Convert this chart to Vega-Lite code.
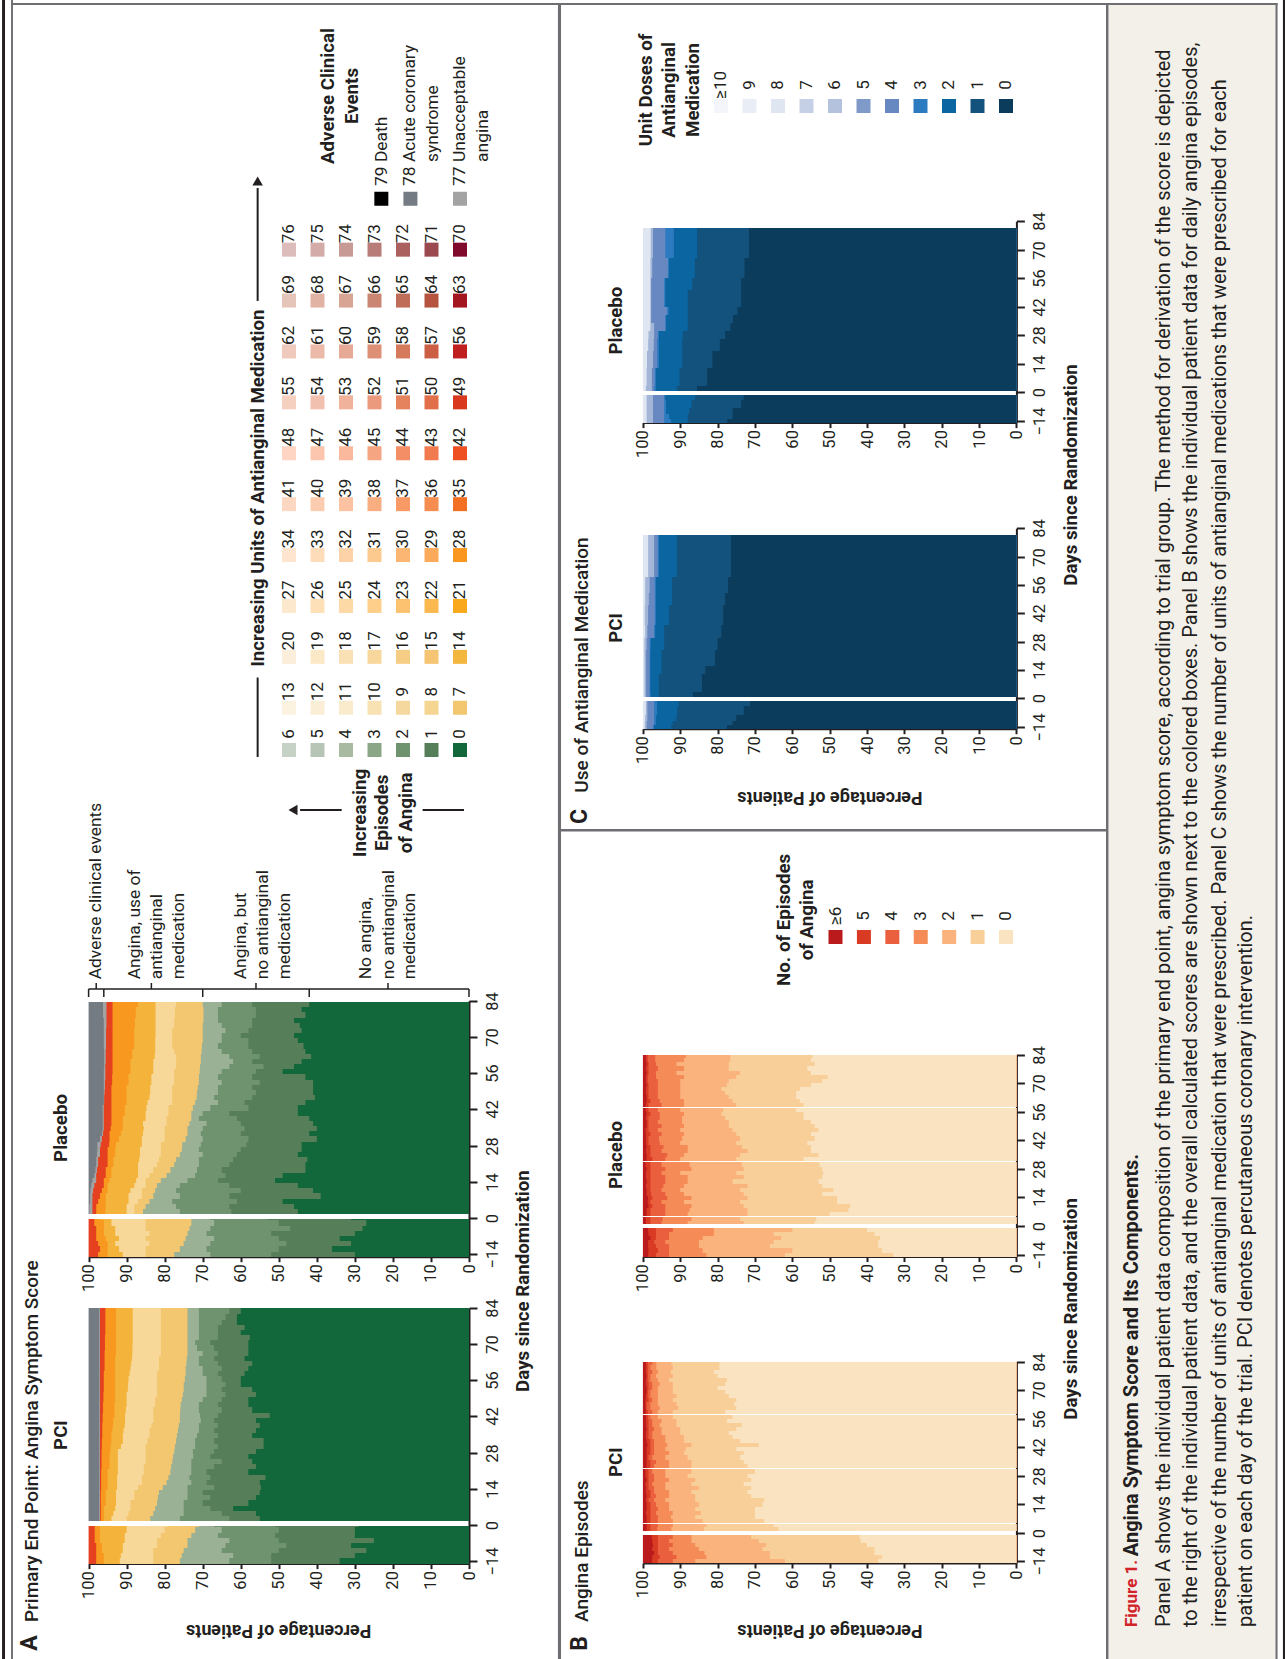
{"$schema":"https://vega.github.io/schema/vega-lite/v6.json","width":1285,"height":1659,"padding":0,"autosize":"none","background":"#ffffff",
"config":{"view":{"stroke":null},"font":"Roboto","axis":{"grid":false,"title":null,"domainColor":"#231f20","tickColor":"#231f20","labelColor":"#231f20","domainWidth":2,"tickWidth":2,"labelFontSize":16.5,"labelOverlap":false,"labelBound":false,"labelFlush":false,"zindex":1},"axisX":{"labelAngle":270,"labelAlign":"right","labelBaseline":"middle","tickSize":5,"labelPadding":2},"axisY":{"labelAngle":270,"labelAlign":"center","labelBaseline":"middle","tickSize":8,"labelPadding":15}},
"resolve":{"scale":{"x":"independent","y":"independent","color":"independent"},"axis":{"x":"independent","y":"independent"}},
"layer":[
{"layer":[
{"data":{"values":[{"x0":86.26,"x1":99.26,"y0":0.3,"y1":100,"k":"caption"},{"x0":0.16,"x1":0.39,"y0":0,"y1":100,"k":"black"},{"x0":99.84,"x1":100,"y0":0,"y1":100,"k":"black"},{"x0":0.86,"x1":1.01,"y0":0,"y1":100,"k":"gray"},{"x0":0.86,"x1":99.42,"y0":0.18,"y1":0.3,"k":"gray"},{"x0":99.26,"x1":99.42,"y0":0.18,"y1":100,"k":"gray"},{"x0":43.42,"x1":43.66,"y0":0.18,"y1":100,"k":"gray"},{"x0":86.07,"x1":86.26,"y0":0.18,"y1":100,"k":"gray"},{"x0":43.5,"x1":86.1,"y0":49.97,"y1":50.12,"k":"gray"}]},"mark":"rect","encoding":{"x":{"field":"x0","type":"quantitative","axis":null,"scale":{"domain":[0,100],"range":[0,1285],"nice":false,"zero":false}},"x2":{"field":"x1"},"y":{"field":"y0","type":"quantitative","axis":null,"scale":{"domain":[0,100],"range":[0,1659],"nice":false,"zero":false}},"y2":{"field":"y1"},"color":{"field":"k","type":"nominal","legend":null,"scale":{"domain":["caption","black","gray"],"range":["#f3f0ea","#231f20","#6d6e71"]}}}},
{"data":{"values":[{"x0":36.11,"x1":32.89,"y0":48.82,"y1":48.82},{"x0":26.59,"x1":23.35,"y0":48.82,"y1":48.82},{"x0":20.05,"x1":20.05,"y0":45.63,"y1":40.84},{"x0":20.05,"x1":20.05,"y0":18.14,"y1":11.33}]},"mark":{"type":"rule","color":"#231f20","strokeWidth":2},"encoding":{"x":{"field":"x0","type":"quantitative","axis":null},"x2":{"field":"x1"},"y":{"field":"y0","type":"quantitative","axis":null},"y2":{"field":"y1"}}},
{"data":{"values":[{"x":22.8,"y":48.82}]},"mark":{"type":"point","shape":"triangle-left","filled":true,"size":110,"color":"#231f20","opacity":1},"encoding":{"x":{"field":"x","type":"quantitative","axis":null},"y":{"field":"y","type":"quantitative","axis":null}}},
{"data":{"values":[{"x":20.05,"y":10.91}]},"mark":{"type":"point","shape":"triangle-up","filled":true,"size":110,"color":"#231f20","opacity":1},"encoding":{"x":{"field":"x","type":"quantitative","axis":null},"y":{"field":"y","type":"quantitative","axis":null}}},
{"data":{"values":[{"t":"Primary End Point: Angina Symptom Score","x":2.49,"y":97.77},{"t":"Angina Episodes","x":45.29,"y":97.77},{"t":"Use of Antianginal Medication","x":45.29,"y":47.78}]},"mark":{"type":"text","angle":270,"align":"left","baseline":"middle","fontSize":19,"fontWeight":500,"color":"#231f20"},"encoding":{"x":{"field":"x","type":"quantitative","axis":null},"y":{"field":"y","type":"quantitative","axis":null},"text":{"field":"t"}}},
{"data":{"values":[{"t":"A","x":2.33,"y":99.5},{"t":"B","x":45.14,"y":99.5},{"t":"C","x":45.14,"y":49.67}]},"mark":{"type":"text","angle":270,"align":"left","baseline":"middle","fontSize":23,"fontWeight":"bold","color":"#231f20"},"encoding":{"x":{"field":"x","type":"quantitative","axis":null},"y":{"field":"y","type":"quantitative","axis":null},"text":{"field":"t"}}},
{"data":{"values":[{"t":"PCI","x":4.75,"y":86.5},{"t":"Placebo","x":4.75,"y":67.99},{"t":"PCI","x":47.94,"y":88.13},{"t":"Placebo","x":47.94,"y":69.62},{"t":"PCI","x":47.94,"y":37.85},{"t":"Placebo","x":47.94,"y":19.32},{"t":"Days since Randomization","x":40.7,"y":77.22},{"t":"Days since Randomization","x":83.35,"y":78.9},{"t":"Days since Randomization","x":83.35,"y":28.63},{"t":"Increasing","x":28.02,"y":49},{"t":"Episodes","x":29.7,"y":49},{"t":"of Angina","x":31.57,"y":49},{"t":"Increasing Units of Antianginal Medication","x":20.08,"y":29.42},{"t":"Adverse Clinical","x":25.53,"y":5.79},{"t":"Events","x":27.37,"y":5.79},{"t":"No. of Episodes","x":61.01,"y":55.45},{"t":"of Angina","x":62.8,"y":55.45},{"t":"Unit Doses of","x":50.27,"y":5.42},{"t":"Antianginal","x":52.06,"y":5.42},{"t":"Medication","x":53.93,"y":5.42}]},"mark":{"type":"text","angle":270,"align":"center","baseline":"middle","fontSize":18.7,"fontWeight":"bold","color":"#231f20"},"encoding":{"x":{"field":"x","type":"quantitative","axis":null},"y":{"field":"y","type":"quantitative","axis":null},"text":{"field":"t"}}},
{"data":{"values":[{"t":"Percentage of Patients","x":21.68,"y":98.25},{"t":"Percentage of Patients","x":64.59,"y":98.25},{"t":"Percentage of Patients","x":64.59,"y":48.02}]},"mark":{"type":"text","angle":180,"align":"center","baseline":"middle","fontSize":18,"fontWeight":"bold","color":"#231f20"},"encoding":{"x":{"field":"x","type":"quantitative","axis":null},"y":{"field":"y","type":"quantitative","axis":null},"text":{"field":"t"}}},
{"data":{"values":[{"t":"Adverse clinical events","x":7.5,"y":59.03},{"t":"Angina, use of","x":10.51,"y":59.03},{"t":"antianginal","x":12.22,"y":59.03},{"t":"medication","x":13.93,"y":59.03},{"t":"Angina, but","x":18.75,"y":59.03},{"t":"no antianginal","x":20.47,"y":59.03},{"t":"medication","x":22.18,"y":59.03},{"t":"No angina,","x":28.48,"y":59.03},{"t":"no antianginal","x":30.24,"y":59.03},{"t":"medication","x":31.88,"y":59.03},{"t":"79 Death","x":29.7,"y":11.21},{"t":"78 Acute coronary","x":31.91,"y":11.21},{"t":"syndrome","x":33.67,"y":9.76},{"t":"77 Unacceptable","x":35.8,"y":11.21},{"t":"angina","x":37.56,"y":9.76}]},"mark":{"type":"text","angle":270,"align":"left","baseline":"middle","fontSize":17.4,"color":"#231f20"},"encoding":{"x":{"field":"x","type":"quantitative","axis":null},"y":{"field":"y","type":"quantitative","axis":null},"text":{"field":"t"}}},
{"data":{"values":[{"t":"Panel A shows the individual patient data composition of the primary end point, angina symptom score, according to trial group. The method for derivation of the score is depicted","x":90.58,"y":98.07},{"t":"to the right of the individual patient data, and the overall calculated scores are shown next to the colored boxes. Panel B shows the individual patient data for daily angina episodes,","x":92.68,"y":98.07},{"t":"irrespective of the number of units of antianginal medication that were prescribed. Panel C shows the number of units of antianginal medications that were prescribed for each","x":94.91,"y":98.07},{"t":"patient on each day of the trial. PCI denotes percutaneous coronary intervention.","x":97,"y":98.07}]},"mark":{"type":"text","angle":270,"align":"left","baseline":"middle","fontSize":20,"color":"#231f20"},"encoding":{"x":{"field":"x","type":"quantitative","axis":null},"y":{"field":"y","type":"quantitative","axis":null},"text":{"field":"t"}}},
{"data":{"values":[{"t":"Angina Symptom Score and Its Components.","x":88.09,"y":93.8}]},"mark":{"type":"text","angle":270,"align":"left","baseline":"middle","fontSize":20,"fontWeight":"bold","color":"#231f20"},"encoding":{"x":{"field":"x","type":"quantitative","axis":null},"y":{"field":"y","type":"quantitative","axis":null},"text":{"field":"t"}}},
{"data":{"values":[{"t":"Figure 1.","x":88.09,"y":98.07}]},"mark":{"type":"text","angle":270,"align":"left","baseline":"middle","fontSize":17,"fontWeight":"bold","color":"#d2232a"},"encoding":{"x":{"field":"x","type":"quantitative","axis":null},"y":{"field":"y","type":"quantitative","axis":null},"text":{"field":"t"}}}
]},
{"layer":[
{"data":{"values":[{"s":6,"c":0,"p":0},{"s":5,"c":1,"p":0},{"s":4,"c":2,"p":0},{"s":3,"c":3,"p":0},{"s":2,"c":4,"p":0},{"s":1,"c":5,"p":0},{"s":0,"c":6,"p":0},{"s":13,"c":0,"p":0.83},{"s":12,"c":1,"p":0.83},{"s":11,"c":2,"p":0.83},{"s":10,"c":3,"p":0.83},{"s":9,"c":4,"p":0.83},{"s":8,"c":5,"p":0.83},{"s":7,"c":6,"p":0.83},{"s":20,"c":0,"p":1.83},{"s":19,"c":1,"p":1.83},{"s":18,"c":2,"p":1.83},{"s":17,"c":3,"p":1.83},{"s":16,"c":4,"p":1.83},{"s":15,"c":5,"p":1.83},{"s":14,"c":6,"p":1.83},{"s":27,"c":0,"p":2.83},{"s":26,"c":1,"p":2.83},{"s":25,"c":2,"p":2.83},{"s":24,"c":3,"p":2.83},{"s":23,"c":4,"p":2.83},{"s":22,"c":5,"p":2.83},{"s":21,"c":6,"p":2.83},{"s":34,"c":0,"p":3.83},{"s":33,"c":1,"p":3.83},{"s":32,"c":2,"p":3.83},{"s":31,"c":3,"p":3.83},{"s":30,"c":4,"p":3.83},{"s":29,"c":5,"p":3.83},{"s":28,"c":6,"p":3.83},{"s":41,"c":0,"p":4.83},{"s":40,"c":1,"p":4.83},{"s":39,"c":2,"p":4.83},{"s":38,"c":3,"p":4.83},{"s":37,"c":4,"p":4.83},{"s":36,"c":5,"p":4.83},{"s":35,"c":6,"p":4.83},{"s":48,"c":0,"p":5.83},{"s":47,"c":1,"p":5.83},{"s":46,"c":2,"p":5.83},{"s":45,"c":3,"p":5.83},{"s":44,"c":4,"p":5.83},{"s":43,"c":5,"p":5.83},{"s":42,"c":6,"p":5.83},{"s":55,"c":0,"p":6.83},{"s":54,"c":1,"p":6.83},{"s":53,"c":2,"p":6.83},{"s":52,"c":3,"p":6.83},{"s":51,"c":4,"p":6.83},{"s":50,"c":5,"p":6.83},{"s":49,"c":6,"p":6.83},{"s":62,"c":0,"p":7.83},{"s":61,"c":1,"p":7.83},{"s":60,"c":2,"p":7.83},{"s":59,"c":3,"p":7.83},{"s":58,"c":4,"p":7.83},{"s":57,"c":5,"p":7.83},{"s":56,"c":6,"p":7.83},{"s":69,"c":0,"p":8.83},{"s":68,"c":1,"p":8.83},{"s":67,"c":2,"p":8.83},{"s":66,"c":3,"p":8.83},{"s":65,"c":4,"p":8.83},{"s":64,"c":5,"p":8.83},{"s":63,"c":6,"p":8.83},{"s":76,"c":0,"p":9.83},{"s":75,"c":1,"p":9.83},{"s":74,"c":2,"p":9.83},{"s":73,"c":3,"p":9.83},{"s":72,"c":4,"p":9.83},{"s":71,"c":5,"p":9.83},{"s":70,"c":6,"p":9.83},{"s":79,"c":3.24,"p":10.83},{"s":78,"c":4.26,"p":10.83},{"s":77,"c":6,"p":10.83}]},
"mark":{"type":"square","size":196,"opacity":1},"encoding":{"x":{"field":"c","type":"quantitative","axis":null,"scale":{"domain":[0,6],"range":[289,460],"nice":false,"zero":false}},"y":{"field":"p","type":"quantitative","axis":null,"scale":{"domain":[0,1],"range":[750,699.1],"nice":false,"zero":false}},"color":{"field":"s","type":"nominal","legend":null,"scale":{"domain":[0,1,2,3,4,5,6,7,8,9,10,11,12,13,14,15,16,17,18,19,20,21,22,23,24,25,26,27,28,29,30,31,32,33,34,35,36,37,38,39,40,41,42,43,44,45,46,47,48,49,50,51,52,53,54,55,56,57,58,59,60,61,62,63,64,65,66,67,68,69,70,71,72,73,74,75,76,77,78,79],"range":["#12683a","#567f59","#6f926f","#8ba686","#a9baa3","#b6c5b5","#c7d2c6","#f2c76f","#f4d592","#f5d89e","#f8e1b3","#faebcd","#faefd6","#fbf3e0","#f3b73f","#f6c573","#f6cd85","#f8d79c","#fae1b5","#fbe8c7","#fbeeda","#f9a81c","#fab84f","#fcc26f","#fdcf8a","#fdd9a6","#fde0b8","#fce8cd","#f9971e","#faaa5a","#fbb673","#fcc98e","#fdd2a8","#fddcba","#fde5d0","#f36f22","#f58d50","#f79a66","#f9ae82","#fcc2a2","#fcccb0","#fcd7c2","#ee4f23","#f27a4f","#f48e66","#f6a582","#fab99d","#fcc6ae","#fdd5c2","#d9381f","#e16f49","#e5835f","#eb9a7d","#f0b29b","#f2c0ae","#f5cfc0","#bf1f1f","#cc5f43","#d67a5c","#de9077","#e6a996","#eab9a7","#eec9bc","#a4161f","#b5533f","#bf6c58","#cb8673","#d8a494","#e1b3a5","#e5c5ba","#7f0a2c","#9a4a4f","#a9605f","#b87d79","#c89a95","#d3aca9","#dcbdbc","#a3a3a3","#747b82","#000000"]}}}},
{"data":{"values":[{"s":6,"c":0,"p":0},{"s":5,"c":1,"p":0},{"s":4,"c":2,"p":0},{"s":3,"c":3,"p":0},{"s":2,"c":4,"p":0},{"s":1,"c":5,"p":0},{"s":0,"c":6,"p":0},{"s":13,"c":0,"p":0.83},{"s":12,"c":1,"p":0.83},{"s":11,"c":2,"p":0.83},{"s":10,"c":3,"p":0.83},{"s":9,"c":4,"p":0.83},{"s":8,"c":5,"p":0.83},{"s":7,"c":6,"p":0.83},{"s":20,"c":0,"p":1.83},{"s":19,"c":1,"p":1.83},{"s":18,"c":2,"p":1.83},{"s":17,"c":3,"p":1.83},{"s":16,"c":4,"p":1.83},{"s":15,"c":5,"p":1.83},{"s":14,"c":6,"p":1.83},{"s":27,"c":0,"p":2.83},{"s":26,"c":1,"p":2.83},{"s":25,"c":2,"p":2.83},{"s":24,"c":3,"p":2.83},{"s":23,"c":4,"p":2.83},{"s":22,"c":5,"p":2.83},{"s":21,"c":6,"p":2.83},{"s":34,"c":0,"p":3.83},{"s":33,"c":1,"p":3.83},{"s":32,"c":2,"p":3.83},{"s":31,"c":3,"p":3.83},{"s":30,"c":4,"p":3.83},{"s":29,"c":5,"p":3.83},{"s":28,"c":6,"p":3.83},{"s":41,"c":0,"p":4.83},{"s":40,"c":1,"p":4.83},{"s":39,"c":2,"p":4.83},{"s":38,"c":3,"p":4.83},{"s":37,"c":4,"p":4.83},{"s":36,"c":5,"p":4.83},{"s":35,"c":6,"p":4.83},{"s":48,"c":0,"p":5.83},{"s":47,"c":1,"p":5.83},{"s":46,"c":2,"p":5.83},{"s":45,"c":3,"p":5.83},{"s":44,"c":4,"p":5.83},{"s":43,"c":5,"p":5.83},{"s":42,"c":6,"p":5.83},{"s":55,"c":0,"p":6.83},{"s":54,"c":1,"p":6.83},{"s":53,"c":2,"p":6.83},{"s":52,"c":3,"p":6.83},{"s":51,"c":4,"p":6.83},{"s":50,"c":5,"p":6.83},{"s":49,"c":6,"p":6.83},{"s":62,"c":0,"p":7.83},{"s":61,"c":1,"p":7.83},{"s":60,"c":2,"p":7.83},{"s":59,"c":3,"p":7.83},{"s":58,"c":4,"p":7.83},{"s":57,"c":5,"p":7.83},{"s":56,"c":6,"p":7.83},{"s":69,"c":0,"p":8.83},{"s":68,"c":1,"p":8.83},{"s":67,"c":2,"p":8.83},{"s":66,"c":3,"p":8.83},{"s":65,"c":4,"p":8.83},{"s":64,"c":5,"p":8.83},{"s":63,"c":6,"p":8.83},{"s":76,"c":0,"p":9.83},{"s":75,"c":1,"p":9.83},{"s":74,"c":2,"p":9.83},{"s":73,"c":3,"p":9.83},{"s":72,"c":4,"p":9.83},{"s":71,"c":5,"p":9.83},{"s":70,"c":6,"p":9.83}]},
"mark":{"type":"text","angle":270,"align":"center","baseline":"middle","fontSize":17,"yOffset":-16,"color":"#231f20"},"encoding":{"x":{"field":"c","type":"quantitative","axis":null},"y":{"field":"p","type":"quantitative","axis":null},"text":{"field":"s","type":"nominal"}}}
]},
{"layer":[
{"data":{"values":[{"l":"≥6","i":0,"n":0},{"l":"5","i":1,"n":0},{"l":"4","i":2,"n":0},{"l":"3","i":3,"n":0},{"l":"2","i":4,"n":0},{"l":"1","i":5,"n":0},{"l":"0","i":6,"n":0}]},"mark":{"type":"square","size":196,"opacity":1},"encoding":{"x":{"field":"i","type":"quantitative","axis":null,"scale":{"domain":[0,6],"range":[835.5,1006],"nice":false,"zero":false}},"y":{"field":"n","type":"quantitative","axis":null,"scale":{"domain":[0,1],"range":[937,900],"nice":false,"zero":false}},"color":{"field":"l","type":"nominal","legend":null,"scale":{"domain":["≥6","5","4","3","2","1","0"],"range":["#bb1a1d","#d93a23","#ea5f3d","#f58c57","#fab37d","#f9cf99","#fae3c0"]}}}},
{"data":{"values":[{"l":"≥6","i":0,"n":0},{"l":"5","i":1,"n":0},{"l":"4","i":2,"n":0},{"l":"3","i":3,"n":0},{"l":"2","i":4,"n":0},{"l":"1","i":5,"n":0},{"l":"0","i":6,"n":0}]},"mark":{"type":"text","angle":270,"align":"center","baseline":"middle","fontSize":17,"yOffset":-21,"color":"#231f20"},"encoding":{"x":{"field":"i","type":"quantitative","axis":null},"y":{"field":"n","type":"quantitative","axis":null},"text":{"field":"l"}}}
]},
{"layer":[
{"data":{"values":[{"l":"≥10","i":0,"n":0},{"l":"9","i":1,"n":0},{"l":"8","i":2,"n":0},{"l":"7","i":3,"n":0},{"l":"6","i":4,"n":0},{"l":"5","i":5,"n":0},{"l":"4","i":6,"n":0},{"l":"3","i":7,"n":0},{"l":"2","i":8,"n":0},{"l":"1","i":9,"n":0},{"l":"0","i":10,"n":0}]},"mark":{"type":"square","size":196,"opacity":1},"encoding":{"x":{"field":"i","type":"quantitative","axis":null,"scale":{"domain":[0,10],"range":[721,1006],"nice":false,"zero":false}},"y":{"field":"n","type":"quantitative","axis":null,"scale":{"domain":[0,1],"range":[106,70],"nice":false,"zero":false}},"color":{"field":"l","type":"nominal","legend":null,"scale":{"domain":["≥10","9","8","7","6","5","4","3","2","1","0"],"range":["#f3f5fa","#e9edf5","#dfe5f1","#c5cfe5","#b4c2de","#7f99c9","#6788c0","#2c7abf","#0a65a0","#14527e","#0b3c5b"]}}}},
{"data":{"values":[{"l":"≥10","i":0,"n":0},{"l":"9","i":1,"n":0},{"l":"8","i":2,"n":0},{"l":"7","i":3,"n":0},{"l":"6","i":4,"n":0},{"l":"5","i":5,"n":0},{"l":"4","i":6,"n":0},{"l":"3","i":7,"n":0},{"l":"2","i":8,"n":0},{"l":"1","i":9,"n":0},{"l":"0","i":10,"n":0}]},"mark":{"type":"text","angle":270,"align":"center","baseline":"middle","fontSize":17,"yOffset":-21,"color":"#231f20"},"encoding":{"x":{"field":"i","type":"quantitative","axis":null},"y":{"field":"n","type":"quantitative","axis":null},"text":{"field":"l"}}}
]},
{"data":{"values":[{"y0":1.5,"y1":84,"k":100,"j":97.2,"i":97},{"y0":-15,"y1":-0.4,"i":100},
{"y0":-15,"y1":-13,"a":34,"b":52,"c":63,"d":76,"e":83,"f":91.8,"g":96,"h":98},{"y0":-13,"y1":-11,"a":30,"b":52,"c":62,"d":75.5,"e":83,"f":91.5,"g":96,"h":98},{"y0":-11,"y1":-9,"a":27,"b":50,"c":65,"d":75,"e":83,"f":91,"g":96.5,"h":98},{"y0":-9,"y1":-7,"a":31,"b":48,"c":64,"d":74,"e":82,"f":91,"g":96.5,"h":98},{"y0":-7,"y1":-5,"a":25,"b":50,"c":63,"d":74,"e":82,"f":90.5,"g":97,"h":98.4},{"y0":-5,"y1":-3,"a":30,"b":51,"c":66,"d":73,"e":81,"f":90.5,"g":97,"h":98.4},{"y0":-3,"y1":-1,"a":30,"b":50,"c":65,"d":72,"e":80,"f":90,"g":97,"h":98.4},{"y0":-1,"y1":-0.4,"a":29,"b":51,"c":67,"d":71,"e":79,"f":90,"g":97,"h":98.4},
{"y0":1.5,"y1":3.5,"a":55,"b":63,"c":76,"d":83.8,"e":90,"f":94,"g":96,"h":96.8},{"y0":3.5,"y1":5.5,"a":56,"b":65,"c":75,"d":83,"e":89.5,"f":93.5,"g":96,"h":96.8},{"y0":5.5,"y1":7.5,"a":62,"b":68,"c":75,"d":82.5,"e":89,"f":93,"g":96,"h":96.8},{"y0":7.5,"y1":9.5,"a":58,"b":70,"c":75,"d":82,"e":89,"f":92.8,"g":95.5,"h":96.8},{"y0":9.5,"y1":11.5,"a":56,"b":68,"c":74,"d":81.8,"e":88,"f":92.8,"g":95.5,"h":96.8},{"y0":11.5,"y1":13.5,"a":55,"b":70,"c":74,"d":81.5,"e":88,"f":92.8,"g":95.5,"h":96.8},{"y0":13.5,"y1":15.5,"a":54.7,"b":67,"c":74,"d":80.5,"e":87,"f":92.5,"g":95,"h":96.7},{"y0":15.5,"y1":17.5,"a":55,"b":69,"c":73,"d":79.5,"e":86,"f":92.5,"g":95,"h":96.7},{"y0":17.5,"y1":19.5,"a":53.5,"b":68,"c":73.5,"d":79,"e":86,"f":92.5,"g":95,"h":96.7},{"y0":19.5,"y1":21.5,"a":58,"b":69,"c":73,"d":78.5,"e":85.5,"f":92.3,"g":95,"h":96.7},{"y0":21.5,"y1":23.5,"a":56,"b":67,"c":73,"d":78.3,"e":85.5,"f":92.3,"g":94.5,"h":96.6},{"y0":23.5,"y1":25.5,"a":57,"b":65,"c":73,"d":78,"e":85,"f":92.3,"g":94.5,"h":96.6},{"y0":25.5,"y1":27.5,"a":58,"b":68,"c":72.5,"d":77.8,"e":85,"f":92.3,"g":94.5,"h":96.6},{"y0":27.5,"y1":29.5,"a":56,"b":67,"c":72.6,"d":77.5,"e":85,"f":92.3,"g":94.3,"h":96.6},{"y0":29.5,"y1":31.5,"a":54,"b":66,"c":72,"d":77.3,"e":85,"f":91.5,"g":94.2,"h":96.5},{"y0":31.5,"y1":33.5,"a":54,"b":67,"c":72,"d":77,"e":84.5,"f":91,"g":94,"h":96.5},{"y0":33.5,"y1":35.5,"a":57,"b":66,"c":71.5,"d":76.8,"e":84,"f":91,"g":94,"h":96.4},{"y0":35.5,"y1":37.5,"a":56,"b":67,"c":71,"d":76.5,"e":84,"f":90.8,"g":93.8,"h":96.4},{"y0":37.5,"y1":39.5,"a":55,"b":66,"c":71,"d":76.3,"e":83.5,"f":90.5,"g":93.6,"h":96.4},{"y0":39.5,"y1":41.5,"a":56,"b":67,"c":70.5,"d":76,"e":83,"f":90.4,"g":93.5,"h":96.3},{"y0":41.5,"y1":43.5,"a":52.4,"b":66,"c":70.7,"d":76,"e":83,"f":90.4,"g":93.2,"h":96.3},{"y0":43.5,"y1":45.5,"a":57,"b":65,"c":71,"d":75.9,"e":83,"f":90.2,"g":93.2,"h":96.2},{"y0":45.5,"y1":47.5,"a":58,"b":66,"c":71,"d":75.8,"e":82.5,"f":90,"g":93.2,"h":96.2},{"y0":47.5,"y1":49.5,"a":58,"b":65,"c":70,"d":75.5,"e":82.5,"f":90,"g":93,"h":96.1},{"y0":49.5,"y1":51.5,"a":56,"b":64,"c":69,"d":75.2,"e":82,"f":90,"g":93,"h":96.1},{"y0":51.5,"y1":53.5,"a":57,"b":65,"c":69,"d":75,"e":82,"f":89.7,"g":93,"h":96},{"y0":53.5,"y1":55.5,"a":60,"b":64,"c":69,"d":75,"e":82,"f":89.6,"g":93,"h":96},{"y0":55.5,"y1":57.5,"a":60,"b":65,"c":69,"d":74.7,"e":82,"f":89.5,"g":93,"h":96},{"y0":57.5,"y1":59.5,"a":59,"b":66,"c":70,"d":74.5,"e":82,"f":89.2,"g":93,"h":96},{"y0":59.5,"y1":61.5,"a":58,"b":65,"c":70,"d":74.5,"e":81.5,"f":89,"g":93,"h":95.8},{"y0":61.5,"y1":63.5,"a":57,"b":66,"c":71,"d":74.3,"e":81.5,"f":88.8,"g":93,"h":95.8},{"y0":63.5,"y1":65.5,"a":59,"b":67,"c":71,"d":74.2,"e":81.5,"f":88.6,"g":93,"h":95.8},{"y0":65.5,"y1":67.5,"a":58,"b":66,"c":70,"d":74,"e":81,"f":88.5,"g":92.8,"h":95.8},{"y0":67.5,"y1":69.5,"a":58,"b":67,"c":71.5,"d":74,"e":81,"f":88.5,"g":92.8,"h":95.7},{"y0":69.5,"y1":71.5,"a":58,"b":68,"c":72,"d":74,"e":81,"f":88.4,"g":92.8,"h":95.7},{"y0":71.5,"y1":73.5,"a":57.6,"b":66,"c":71,"d":74,"e":81,"f":88.4,"g":92.8,"h":95.7},{"y0":73.5,"y1":75.5,"a":60,"b":66,"c":71,"d":74,"e":81,"f":88.4,"g":92.8,"h":95.6},{"y0":75.5,"y1":77.5,"a":59,"b":66,"c":71,"d":74,"e":81,"f":88.4,"g":92.8,"h":95.6},{"y0":77.5,"y1":79.5,"a":61,"b":65,"c":71,"d":74,"e":81,"f":88.4,"g":92.8,"h":95.6},{"y0":79.5,"y1":81.5,"a":61,"b":64,"c":71,"d":74,"e":81,"f":88.4,"g":92.8,"h":95.6},{"y0":81.5,"y1":84,"a":60,"b":63,"c":71,"d":74,"e":81,"f":88.4,"g":92.8,"h":95.6}]},
"transform":[{"fold":["k","j","i","h","g","f","e","d","c","b","a"],"as":["band","v"]}],"mark":"rect","encoding":{"x":{"field":"v","type":"quantitative","scale":{"domain":[100,0],"range":[88.6,469],"nice":false,"zero":false},"axis":{"orient":"bottom","offset":-95.4,"values":[0,10,20,30,40,50,60,70,80,90,100]}},"x2":{"datum":0},"y":{"field":"y0","type":"quantitative","scale":{"domain":[-15,84],"range":[1563.6,1308],"nice":false,"zero":false,"round":true},"axis":{"orient":"right","offset":-816,"values":[-14,0,14,28,42,56,70,84],"format":"d"}},"y2":{"field":"y1"},"color":{"field":"band","type":"nominal","legend":null,"scale":{"domain":["a","b","c","d","e","f","g","h","i","j","k"],"range":["#12683a","#567f59","#6f926f","#9bb196","#f2c76f","#f7d898","#f4b43c","#f9981f","#e5401f","#a3a3a3","#747b82"]}}}},
{"layer":[
{"data":{"values":[{"y0":1.5,"y1":83.5,"k":100},{"y0":-15,"y1":-0.4,"i":100},
{"y0":-15,"y1":-13,"a":30,"b":52,"c":68,"d":77.5,"e":85,"f":91,"g":95,"h":97.5},{"y0":-13,"y1":-11,"a":36,"b":50,"c":69,"d":76,"e":85,"f":92,"g":95,"h":97},{"y0":-11,"y1":-9,"a":31,"b":48,"c":68,"d":75,"e":84,"f":93,"g":95,"h":97.5},{"y0":-9,"y1":-7,"a":34,"b":50,"c":67,"d":74.5,"e":85,"f":92,"g":95.5,"h":98},{"y0":-7,"y1":-5,"a":30,"b":52,"c":69,"d":74,"e":84,"f":93,"g":96,"h":98},{"y0":-5,"y1":-3,"a":28,"b":47,"c":68,"d":73.5,"e":85,"f":93,"g":96,"h":98},{"y0":-3,"y1":-1,"a":27,"b":50,"c":67,"d":73,"e":85,"f":94,"g":96,"h":98.5},{"y0":-1,"y1":-0.4,"a":31,"b":53,"c":68,"d":73,"e":85,"f":94,"g":97,"h":98.5},
{"y0":1.5,"y1":3.5,"a":45,"b":62.5,"c":76,"d":85.7,"e":88,"f":90,"g":95.6,"h":98,"i":99,"j":99.8},{"y0":3.5,"y1":5.5,"a":46,"b":63,"c":77,"d":85,"e":88,"f":90,"g":95.5,"h":98,"i":99,"j":99.8},{"y0":5.5,"y1":7.5,"a":49,"b":61,"c":78,"d":84,"e":87,"f":89.5,"g":95.5,"h":97.5,"i":99,"j":99.6},{"y0":7.5,"y1":9.5,"a":39,"b":63,"c":76,"d":83,"e":86,"f":89.5,"g":95.5,"h":97,"i":99,"j":99.6},{"y0":9.5,"y1":11.5,"a":41,"b":60,"c":77,"d":82.5,"e":86,"f":89,"g":95,"h":96.5,"i":98.8,"j":99.5},{"y0":11.5,"y1":13.5,"a":45,"b":63,"c":76,"d":82,"e":85,"f":88,"g":95,"h":96,"i":98.5,"j":99.3},{"y0":13.5,"y1":15.5,"a":51,"b":66,"c":74,"d":81,"e":85,"f":87.5,"g":94.5,"h":96,"i":98,"j":99},{"y0":15.5,"y1":17.5,"a":49,"b":64,"c":72,"d":79.5,"e":84,"f":87,"g":94,"h":95.5,"i":98,"j":98.5},{"y0":17.5,"y1":19.5,"a":43,"b":65,"c":71.5,"d":78.5,"e":83,"f":87,"g":94,"h":95.5,"i":97.8,"j":98.2},{"y0":19.5,"y1":21.5,"a":43,"b":63,"c":71,"d":77.5,"e":82,"f":87,"g":93.5,"h":95,"i":97.5,"j":98},{"y0":21.5,"y1":23.5,"a":42.5,"b":62,"c":71,"d":77,"e":81.5,"f":86.7,"g":93.5,"h":95,"i":97.5,"j":98},{"y0":23.5,"y1":25.5,"a":45,"b":61,"c":70,"d":76,"e":81,"f":86.5,"g":93,"h":95,"i":97,"j":97.8},{"y0":25.5,"y1":27.5,"a":44,"b":60,"c":71,"d":75.5,"e":81,"f":86.5,"g":93,"h":95,"i":97,"j":97.7},{"y0":27.5,"y1":29.5,"a":44,"b":58.5,"c":70.5,"d":75.4,"e":81,"f":86,"g":92.8,"h":94.6,"i":96.8,"j":97.7},{"y0":29.5,"y1":31.5,"a":40,"b":58,"c":70,"d":74.5,"e":80,"f":86,"g":92,"h":94.5,"i":96.5,"j":97},{"y0":31.5,"y1":33.5,"a":42,"b":60,"c":70.5,"d":74,"e":80,"f":85.7,"g":91.5,"h":94.5,"i":96.2,"j":96.5},{"y0":33.5,"y1":35.5,"a":40,"b":59,"c":70,"d":74,"e":80,"f":85.5,"g":91,"h":94.2,"i":96,"j":96.3},{"y0":35.5,"y1":37.5,"a":41,"b":60,"c":69,"d":73.5,"e":79.5,"f":85.7,"g":91,"h":94,"i":96,"j":96.3},{"y0":37.5,"y1":39.5,"a":42,"b":61,"c":71,"d":73,"e":79.5,"f":85,"g":91,"h":94,"i":96,"j":96.3},{"y0":39.5,"y1":41.5,"a":45,"b":63,"c":70,"d":73,"e":79,"f":85,"g":90.5,"h":94,"i":96,"j":96.3},{"y0":41.5,"y1":43.5,"a":45,"b":58,"c":68,"d":72.6,"e":79,"f":84.8,"g":90.5,"h":94,"i":96,"j":96.3},{"y0":43.5,"y1":45.5,"a":43,"b":59,"c":66,"d":72,"e":78,"f":84.5,"g":90,"h":94,"i":95.9,"j":96},{"y0":45.5,"y1":47.5,"a":40.5,"b":57,"c":67,"d":71.6,"e":78,"f":84,"g":90,"h":94,"i":95.9,"j":96},{"y0":47.5,"y1":49.5,"a":41,"b":56,"c":66,"d":71.5,"e":78,"f":83.8,"g":90,"h":94,"i":95.8,"j":96},{"y0":49.5,"y1":51.5,"a":41,"b":57,"c":66,"d":71.3,"e":78,"f":83.8,"g":90,"h":94,"i":95.7,"j":96},{"y0":51.5,"y1":53.5,"a":41,"b":55,"c":65,"d":71,"e":77.5,"f":83.5,"g":89.5,"h":93.8,"i":95.7,"j":96},{"y0":53.5,"y1":55.5,"a":43,"b":57,"c":66,"d":71,"e":77.5,"f":83.5,"g":89.5,"h":93.8,"i":95.6,"j":96},{"y0":55.5,"y1":57.5,"a":49,"b":56,"c":65,"d":70.8,"e":77.5,"f":83,"g":89,"h":93.7,"i":95.6,"j":96},{"y0":57.5,"y1":59.5,"a":46,"b":54,"c":63,"d":70.7,"e":77,"f":83,"g":89,"h":93.7,"i":95.6,"j":95.9},{"y0":59.5,"y1":61.5,"a":44,"b":57,"c":62,"d":70.5,"e":77,"f":83,"g":89,"h":93.7,"i":95.5,"j":95.9},{"y0":61.5,"y1":63.5,"a":41.5,"b":55,"c":63,"d":70.5,"e":77,"f":82.6,"g":88.5,"h":93.7,"i":95.5,"j":95.9},{"y0":63.5,"y1":65.5,"a":43,"b":57,"c":65,"d":70.3,"e":77.5,"f":82.5,"g":88.5,"h":93.7,"i":95.5,"j":95.9},{"y0":65.5,"y1":67.5,"a":43.5,"b":58,"c":66,"d":70.2,"e":78,"f":82.5,"g":88,"h":93.7,"i":95.4,"j":96},{"y0":67.5,"y1":69.5,"a":45,"b":58,"c":65,"d":70,"e":78,"f":82.5,"g":88,"h":93.7,"i":95.4,"j":96},{"y0":69.5,"y1":71.5,"a":46,"b":60,"c":65,"d":70,"e":78,"f":82.4,"g":88,"h":93.7,"i":95.4,"j":96},{"y0":71.5,"y1":73.5,"a":44,"b":58,"c":64,"d":70,"e":78,"f":82.4,"g":88,"h":93.7,"i":95.4,"j":96},{"y0":73.5,"y1":75.5,"a":44.5,"b":57,"c":65,"d":70,"e":77.5,"f":82.4,"g":87.8,"h":93.7,"i":95.3,"j":96},{"y0":75.5,"y1":77.5,"a":46,"b":57,"c":66,"d":69.8,"e":77.5,"f":82.4,"g":87.8,"h":93.7,"i":95.3,"j":96},{"y0":77.5,"y1":79.5,"a":43,"b":56,"c":66,"d":69.8,"e":77.3,"f":82.4,"g":87.6,"h":93.7,"i":95.3,"j":96.2},{"y0":79.5,"y1":81.5,"a":44,"b":56,"c":66,"d":69.8,"e":77.3,"f":82.4,"g":87.6,"h":93.7,"i":95.3,"j":96.2},{"y0":81.5,"y1":83.5,"a":42,"b":57,"c":65,"d":70,"e":77,"f":82.4,"g":87,"h":93.7,"i":95.3,"j":96.2}]},
"transform":[{"fold":["k","j","i","h","g","f","e","d","c","b","a"],"as":["band","v"]}],"mark":"rect","encoding":{"x":{"field":"v","type":"quantitative","scale":{"domain":[100,0],"range":[88.6,469],"nice":false,"zero":false},"axis":{"orient":"bottom","offset":-402.3,"values":[0,10,20,30,40,50,60,70,80,90,100]}},"x2":{"datum":0},"y":{"field":"y0","type":"quantitative","scale":{"domain":[-15,84],"range":[1256.7,1000.7],"nice":false,"zero":false,"round":true},"axis":{"orient":"right","offset":-816,"values":[-14,0,14,28,42,56,70,84],"format":"d"}},"y2":{"field":"y1"},"color":{"field":"band","type":"nominal","legend":null,"scale":{"domain":["a","b","c","d","e","f","g","h","i","j","k"],"range":["#12683a","#567f59","#6f926f","#9bb196","#f2c76f","#f7d898","#f4b43c","#f9981f","#e5401f","#a3a3a3","#747b82"]}}}},
{"data":{"values":[{"p0":100,"p1":0,"d0":88.4,"d1":88.4},{"p0":100,"p1":100,"d0":88.4,"d1":85.3},{"p0":96,"p1":96,"d0":88.4,"d1":85.3},{"p0":70,"p1":70,"d0":88.4,"d1":85.3},{"p0":42,"p1":42,"d0":88.4,"d1":85.3},{"p0":0,"p1":0,"d0":88.4,"d1":85.3},{"p0":98,"p1":98,"d0":88.4,"d1":91},{"p0":83.5,"p1":83.5,"d0":88.4,"d1":91},{"p0":56,"p1":56,"d0":88.4,"d1":91},{"p0":21.3,"p1":21.3,"d0":88.4,"d1":91}]},"mark":{"type":"rule","color":"#231f20","strokeWidth":1.5},"encoding":{"x":{"field":"p0","type":"quantitative"},"x2":{"field":"p1"},"y":{"field":"d0","type":"quantitative"},"y2":{"field":"d1"}}}
]},
{"data":{"values":[{"y0":-15,"y1":-1,"g":100},{"y0":0.9,"y1":4.2,"g":100},{"y0":4.8,"y1":31.3,"g":100},{"y0":31.9,"y1":57.6,"g":100},{"y0":58.2,"y1":84,"g":100},
{"y0":-15,"y1":-13,"a":37,"b":62,"c":86,"d":92,"e":96,"f":97.6},{"y0":-13,"y1":-11,"a":36,"b":66,"c":83,"d":91,"e":95.5,"f":97.5},{"y0":-11,"y1":-9,"a":38,"b":66,"c":83.5,"d":92,"e":96,"f":97},{"y0":-9,"y1":-7,"a":38,"b":68,"c":85,"d":93,"e":96,"f":97.5},{"y0":-7,"y1":-5,"a":40,"b":67,"c":86,"d":92,"e":96,"f":97.3},{"y0":-5,"y1":-3,"a":41.7,"b":69,"c":87,"d":93,"e":96,"f":97.5},{"y0":-3,"y1":-1,"a":42,"b":71,"c":87,"d":92,"e":96,"f":97.6},
{"y0":0.9,"y1":2.5,"a":63.7,"b":83.7,"c":92.4,"d":96.2,"e":98,"f":99},{"y0":2.5,"y1":4.2,"a":65,"b":83,"c":92,"d":96,"e":98,"f":99},{"y0":4.8,"y1":6.8,"a":67.5,"b":84,"c":92,"d":96,"e":98,"f":99},{"y0":6.8,"y1":8.8,"a":70,"b":86,"c":92.5,"d":96,"e":98,"f":99},{"y0":8.8,"y1":10.8,"a":70,"b":84.5,"c":92,"d":96.5,"e":98,"f":99.2},{"y0":10.8,"y1":12.8,"a":70,"b":86,"c":93,"d":96,"e":98,"f":99},{"y0":12.8,"y1":14.8,"a":68,"b":85,"c":93,"d":96.5,"e":98,"f":99},{"y0":14.8,"y1":16.8,"a":67.5,"b":86,"c":94,"d":97,"e":98.5,"f":99.2},{"y0":16.8,"y1":18.8,"a":71,"b":86,"c":93,"d":96.5,"e":98,"f":99},{"y0":18.8,"y1":20.8,"a":72,"b":87,"c":93,"d":97,"e":98,"f":99.2},{"y0":20.8,"y1":22.8,"a":71,"b":85,"c":94,"d":97,"e":98.5,"f":99.2},{"y0":22.8,"y1":24.8,"a":73,"b":87,"c":94,"d":97.5,"e":98.5,"f":99.3},{"y0":24.8,"y1":26.8,"a":71,"b":86,"c":93,"d":97,"e":98.5,"f":99},{"y0":26.8,"y1":28.8,"a":72,"b":88,"c":94,"d":97,"e":98.5,"f":99.3},{"y0":28.8,"y1":31.3,"a":70,"b":87,"c":94,"d":97.5,"e":98.5,"f":99.3},
{"y0":31.9,"y1":33.9,"a":72,"b":87,"c":93,"d":97,"e":98,"f":99},{"y0":33.9,"y1":35.9,"a":73,"b":87,"c":93,"d":96.5,"e":98,"f":99},{"y0":35.9,"y1":37.9,"a":74,"b":88,"c":94,"d":97.5,"e":98.5,"f":99},{"y0":37.9,"y1":39.9,"a":73,"b":89,"c":93,"d":97,"e":98,"f":99},{"y0":39.9,"y1":41.9,"a":75,"b":88.5,"c":94,"d":97,"e":98,"f":99},{"y0":41.9,"y1":43.9,"a":69,"b":87,"c":93.5,"d":97,"e":98,"f":98.8},{"y0":43.9,"y1":45.9,"a":74,"b":89,"c":94,"d":97,"e":98,"f":99},{"y0":45.9,"y1":47.9,"a":76,"b":89,"c":94,"d":97.5,"e":98.5,"f":99.2},{"y0":47.9,"y1":49.9,"a":77,"b":90,"c":95,"d":97.5,"e":98.5,"f":99.2},{"y0":49.9,"y1":51.9,"a":75,"b":90,"c":95,"d":97,"e":98.5,"f":99},{"y0":51.9,"y1":53.9,"a":73.5,"b":91,"c":95.5,"d":97.5,"e":98.5,"f":99.2},{"y0":53.9,"y1":55.9,"a":77.5,"b":91,"c":95,"d":97.5,"e":98.5,"f":99.2},{"y0":55.9,"y1":57.6,"a":76,"b":92,"c":96,"d":98,"e":98.7,"f":99.2},
{"y0":58.2,"y1":60.2,"a":78,"b":92,"c":96,"d":97.5,"e":98.7,"f":99.2},{"y0":60.2,"y1":62.2,"a":75,"b":90.5,"c":95.5,"d":98,"e":99,"f":99.3},{"y0":62.2,"y1":64.2,"a":75.5,"b":91,"c":96,"d":98,"e":99,"f":99.3},{"y0":64.2,"y1":66.2,"a":75,"b":92,"c":96,"d":97.5,"e":98.5,"f":99.3},{"y0":66.2,"y1":68.2,"a":77,"b":91,"c":96,"d":98,"e":98.7,"f":99.2},{"y0":68.2,"y1":70.2,"a":78,"b":92,"c":96,"d":98,"e":98.7,"f":99},{"y0":70.2,"y1":72.2,"a":80,"b":92,"c":96,"d":97.5,"e":98.5,"f":99},{"y0":72.2,"y1":74.2,"a":78,"b":92,"c":95.5,"d":97.5,"e":98.5,"f":99.2},{"y0":74.2,"y1":76.2,"a":77.5,"b":93,"c":96,"d":98,"e":98.7,"f":99.2},{"y0":76.2,"y1":78.2,"a":80,"b":92,"c":96.5,"d":98,"e":98.7,"f":99},{"y0":78.2,"y1":80.2,"a":81,"b":92.5,"c":96,"d":97.5,"e":98.7,"f":99.2},{"y0":80.2,"y1":82.2,"a":79.5,"b":92,"c":96.4,"d":98,"e":98.7,"f":99.2},{"y0":82.2,"y1":84,"a":79.5,"b":92.4,"c":96.4,"d":97.5,"e":98.7,"f":99.2}]},
"transform":[{"fold":["g","f","e","d","c","b","a"],"as":["band","v"]}],"mark":"rect","encoding":{"x":{"field":"v","type":"quantitative","scale":{"domain":[100,0],"range":[642.9,1016.4],"nice":false,"zero":false},"axis":{"orient":"bottom","offset":-96,"values":[0,10,20,30,40,50,60,70,80,90,100]}},"x2":{"datum":0},"y":{"field":"y0","type":"quantitative","scale":{"domain":[-15,84],"range":[1563,1361.8],"nice":false,"zero":false,"round":true},"axis":{"orient":"right","offset":-268.6,"values":[-14,0,14,28,42,56,70,84],"format":"d"}},"y2":{"field":"y1"},"color":{"field":"band","type":"nominal","legend":null,"scale":{"domain":["a","b","c","d","e","f","g"],"range":["#fae3c0","#f9cf99","#fab37d","#f58c57","#ea5f3d","#d93a23","#bb1a1d"]}}}},
{"data":{"values":[{"y0":-15,"y1":-1,"g":100},{"y0":0.9,"y1":4.2,"g":100},{"y0":4.8,"y1":31.3,"g":100},{"y0":31.9,"y1":57.6,"g":100},{"y0":58.2,"y1":84,"g":100},
{"y0":-15,"y1":-13,"a":33,"b":62,"c":83,"d":93,"e":96.5,"f":98.6},{"y0":-13,"y1":-11,"a":36,"b":60,"c":84,"d":93,"e":96,"f":98.5},{"y0":-11,"y1":-9,"a":37,"b":66,"c":85,"d":93,"e":96.5,"f":98.6},{"y0":-9,"y1":-7,"a":37,"b":65,"c":85,"d":94,"e":97,"f":98.6},{"y0":-7,"y1":-5,"a":36.5,"b":63,"c":84,"d":93,"e":96.5,"f":98},{"y0":-5,"y1":-3,"a":38,"b":65,"c":81,"d":93,"e":96.5,"f":98.5},{"y0":-3,"y1":-1,"a":40,"b":60,"c":81,"d":92,"e":96.5,"f":98.6},
{"y0":0.9,"y1":2.5,"a":54,"b":73,"c":88,"d":95,"e":98,"f":99.2},{"y0":2.5,"y1":4.2,"a":53.6,"b":74,"c":87,"d":94.7,"e":98,"f":99.2},{"y0":4.8,"y1":6.8,"a":50,"b":72,"c":88,"d":94,"e":98,"f":99},{"y0":6.8,"y1":8.8,"a":45,"b":72,"c":87.5,"d":94,"e":98,"f":99},{"y0":8.8,"y1":10.8,"a":44.5,"b":73,"c":87,"d":94,"e":97.5,"f":98.5},{"y0":10.8,"y1":12.8,"a":48,"b":74,"c":89,"d":95,"e":98,"f":98.7},{"y0":12.8,"y1":14.8,"a":48,"b":72,"c":87,"d":93.5,"e":97.5,"f":98.6},{"y0":14.8,"y1":16.8,"a":52,"b":73,"c":89,"d":94,"e":97.8,"f":99},{"y0":16.8,"y1":18.8,"a":49,"b":74,"c":90,"d":95,"e":98,"f":99},{"y0":18.8,"y1":20.8,"a":52,"b":72,"c":89,"d":94.5,"e":98,"f":99.2},{"y0":20.8,"y1":22.8,"a":53,"b":76,"c":88,"d":94,"e":98,"f":99},{"y0":22.8,"y1":24.8,"a":52,"b":73,"c":88,"d":94,"e":98,"f":99.2},{"y0":24.8,"y1":26.8,"a":51.7,"b":75,"c":90,"d":95,"e":98,"f":99.2},{"y0":26.8,"y1":28.8,"a":52,"b":73,"c":87,"d":94,"e":98,"f":99},{"y0":28.8,"y1":31.3,"a":52.7,"b":73.5,"c":87.5,"d":95,"e":98,"f":99.3},
{"y0":31.9,"y1":33.9,"a":57,"b":75,"c":90,"d":94,"e":97.5,"f":99},{"y0":33.9,"y1":35.9,"a":53,"b":74,"c":89,"d":93.5,"e":98,"f":99},{"y0":35.9,"y1":37.9,"a":55,"b":72,"c":88,"d":95,"e":98,"f":99.2},{"y0":37.9,"y1":39.9,"a":55,"b":73.5,"c":88,"d":94.5,"e":98,"f":99},{"y0":39.9,"y1":41.9,"a":56,"b":75,"c":90,"d":95.5,"e":98.5,"f":99.2},{"y0":41.9,"y1":43.9,"a":54,"b":74,"c":89.5,"d":95.7,"e":98.5,"f":99.2},{"y0":43.9,"y1":45.9,"a":55,"b":75,"c":89,"d":95,"e":98,"f":99.2},{"y0":45.9,"y1":47.9,"a":53,"b":76,"c":90,"d":96,"e":98.5,"f":99.3},{"y0":47.9,"y1":49.9,"a":54,"b":77,"c":89,"d":95,"e":98.5,"f":99},{"y0":49.9,"y1":51.9,"a":55,"b":77,"c":89.5,"d":96,"e":98.5,"f":99},{"y0":51.9,"y1":53.9,"a":57,"b":78,"c":89.5,"d":95.5,"e":98.5,"f":99.2},{"y0":53.9,"y1":55.9,"a":57,"b":79,"c":89,"d":95.5,"e":98,"f":99},{"y0":55.9,"y1":57.6,"a":59,"b":78.5,"c":90,"d":96,"e":98.5,"f":99.2},
{"y0":58.2,"y1":60.2,"a":57,"b":75,"c":89,"d":95,"e":98.5,"f":99.2},{"y0":60.2,"y1":62.2,"a":58,"b":76,"c":89,"d":95.5,"e":98,"f":99},{"y0":62.2,"y1":64.2,"a":59,"b":77,"c":90,"d":96,"e":98.5,"f":99},{"y0":64.2,"y1":66.2,"a":59,"b":78,"c":90,"d":96,"e":98.5,"f":99.2},{"y0":66.2,"y1":68.2,"a":58,"b":79,"c":90,"d":96,"e":98.5,"f":99.2},{"y0":68.2,"y1":70.2,"a":55,"b":77.5,"c":90,"d":96,"e":98.5,"f":99},{"y0":70.2,"y1":72.2,"a":52,"b":77,"c":90,"d":96,"e":98.7,"f":99.2},{"y0":72.2,"y1":74.2,"a":50.5,"b":75,"c":89,"d":96.5,"e":98.7,"f":99.2},{"y0":74.2,"y1":76.2,"a":55,"b":74,"c":91,"d":96.5,"e":98.5,"f":99},{"y0":76.2,"y1":78.2,"a":56,"b":77,"c":89,"d":96,"e":98.5,"f":99.2},{"y0":78.2,"y1":80.2,"a":54,"b":77,"c":91,"d":96.5,"e":98.5,"f":99},{"y0":80.2,"y1":82.2,"a":55,"b":76.6,"c":89,"d":96.7,"e":98.7,"f":99.2},{"y0":82.2,"y1":84,"a":54.6,"b":76.6,"c":88.5,"d":96.7,"e":98.7,"f":99.2}]},
"transform":[{"fold":["g","f","e","d","c","b","a"],"as":["band","v"]}],"mark":"rect","encoding":{"x":{"field":"v","type":"quantitative","scale":{"domain":[100,0],"range":[642.9,1016.4],"nice":false,"zero":false},"axis":{"orient":"bottom","offset":-402.4,"values":[0,10,20,30,40,50,60,70,80,90,100]}},"x2":{"datum":0},"y":{"field":"y0","type":"quantitative","scale":{"domain":[-15,84],"range":[1256.6,1054.6],"nice":false,"zero":false,"round":true},"axis":{"orient":"right","offset":-268.6,"values":[-14,0,14,28,42,56,70,84],"format":"d"}},"y2":{"field":"y1"},"color":{"field":"band","type":"nominal","legend":null,"scale":{"domain":["a","b","c","d","e","f","g"],"range":["#fae3c0","#f9cf99","#fab37d","#f58c57","#ea5f3d","#d93a23","#bb1a1d"]}}}},
{"data":{"values":[{"y0":-15,"y1":-1.1,"g":100},{"y0":0.5,"y1":80.5,"g":100},
{"y0":-15,"y1":-13,"a":77.5,"b":92.4,"c":97,"d":97.3,"e":99,"f":99.5},{"y0":-13,"y1":-11,"a":76,"b":92,"c":96.5,"d":97,"e":99,"f":99.5},{"y0":-11,"y1":-8,"a":75,"b":91,"c":96.5,"d":97,"e":98.8,"f":99.4},{"y0":-8,"y1":-4,"a":73,"b":90.8,"c":96.2,"d":97,"e":98.8,"f":99.2},{"y0":-4,"y1":-1.1,"a":71.3,"b":90.4,"c":96.2,"d":97,"e":98.8,"f":99.2},{"y0":0.5,"y1":3,"a":86.6,"b":95.7,"c":97.9,"d":98.2,"e":99.2,"f":99.6},{"y0":3,"y1":12,"a":84.2,"b":95.7,"c":98,"d":98.2,"e":99.2,"f":99.6},{"y0":12,"y1":16,"a":83.3,"b":95,"c":98,"d":98.2,"e":99.2,"f":99.6},{"y0":16,"y1":24,"a":80.7,"b":95,"c":98,"d":98.2,"e":99.2,"f":99.6},{"y0":24,"y1":30,"a":80,"b":94.3,"c":97.9,"d":98.2,"e":99,"f":99.6},{"y0":30,"y1":36,"a":79,"b":94.3,"c":96.7,"d":97,"e":98.8,"f":99.4},{"y0":36,"y1":46,"a":78.5,"b":93,"c":96.5,"d":96.8,"e":98.6,"f":99.5},{"y0":46,"y1":52,"a":78,"b":92.2,"c":96.5,"d":96.8,"e":98.4,"f":99.4},{"y0":52,"y1":60,"a":77.2,"b":92.2,"c":96.5,"d":96.8,"e":98.2,"f":99.4},{"y0":60,"y1":70,"a":76.4,"b":90.9,"c":95.7,"d":96,"e":97,"f":98.6},{"y0":70,"y1":80.5,"a":76.4,"b":90.9,"c":95.7,"d":96,"e":97,"f":98.6}]},
"transform":[{"fold":["g","f","e","d","c","b","a"],"as":["band","v"]}],"mark":"rect","encoding":{"x":{"field":"v","type":"quantitative","scale":{"domain":[100,0],"range":[642.9,1016.4],"nice":false,"zero":false},"axis":{"orient":"bottom","offset":-930.3,"values":[0,10,20,30,40,50,60,70,80,90,100]}},"x2":{"datum":0},"y":{"field":"y0","type":"quantitative","scale":{"domain":[-15,84],"range":[728.7,528.2],"nice":false,"zero":false,"round":true},"axis":{"orient":"right","offset":-268.6,"values":[-14,0,14,28,42,56,70,84],"format":"d"}},"y2":{"field":"y1"},"color":{"field":"band","type":"nominal","legend":null,"scale":{"domain":["a","b","c","d","e","f","g"],"range":["#0b3c5b","#14527e","#0a65a0","#2c7abf","#6788c0","#a4b6d8","#dfe5f1"]}}}},
{"data":{"values":[{"y0":-15,"y1":-1.4,"g":100},{"y0":0.45,"y1":80.5,"g":100},
{"y0":-15,"y1":-13,"a":77.4,"b":88,"c":92.5,"d":94.3,"e":97.3,"f":99},{"y0":-13,"y1":-11,"a":76,"b":88,"c":93,"d":94.3,"e":97.3,"f":99},{"y0":-11,"y1":-8,"a":76,"b":87.6,"c":93.8,"d":94.3,"e":97.3,"f":99},{"y0":-8,"y1":-4,"a":73.7,"b":87,"c":93.8,"d":94.3,"e":97.3,"f":99},{"y0":-4,"y1":-1.4,"a":73,"b":86,"c":94,"d":94.3,"e":97.3,"f":99},{"y0":0.45,"y1":3,"a":85.5,"b":90.9,"c":96.5,"d":97,"e":97.6,"f":99.2},{"y0":3,"y1":12,"a":82.8,"b":90.2,"c":96.5,"d":96.8,"e":97.6,"f":99},{"y0":12,"y1":20,"a":81.4,"b":89.5,"c":95.7,"d":96.2,"e":97.3,"f":98.9},{"y0":20,"y1":26,"a":79.4,"b":89.5,"c":95.7,"d":96.2,"e":97.1,"f":98.6},{"y0":26,"y1":30,"a":78,"b":89.3,"c":95.7,"d":96,"e":97,"f":98.5},{"y0":30,"y1":34,"a":76.6,"b":88,"c":93.8,"d":94,"e":97,"f":98},{"y0":34,"y1":38,"a":75.9,"b":88,"c":93.8,"d":94,"e":97.8,"f":98},{"y0":38,"y1":42,"a":74.7,"b":88,"c":93.1,"d":93.5,"e":97.8,"f":98},{"y0":42,"y1":50,"a":73.7,"b":88,"c":94,"d":94.3,"e":97.8,"f":98},{"y0":50,"y1":56,"a":73.7,"b":86.8,"c":94,"d":94.3,"e":97.8,"f":98},{"y0":56,"y1":66,"a":72.8,"b":86.1,"c":93,"d":93.3,"e":97.5,"f":98},{"y0":66,"y1":80.5,"a":71.6,"b":85.5,"c":91.7,"d":94,"e":97.3,"f":97.9}]},
"transform":[{"fold":["g","f","e","d","c","b","a"],"as":["band","v"]}],"mark":"rect","encoding":{"x":{"field":"v","type":"quantitative","scale":{"domain":[100,0],"range":[642.9,1016.4],"nice":false,"zero":false},"axis":{"orient":"bottom","offset":-1236.4,"values":[0,10,20,30,40,50,60,70,80,90,100]}},"x2":{"datum":0},"y":{"field":"y0","type":"quantitative","scale":{"domain":[-15,84],"range":[422.6,221.3],"nice":false,"zero":false,"round":true},"axis":{"orient":"right","offset":-268.6,"values":[-14,0,14,28,42,56,70,84],"format":"d"}},"y2":{"field":"y1"},"color":{"field":"band","type":"nominal","legend":null,"scale":{"domain":["a","b","c","d","e","f","g"],"range":["#0b3c5b","#14527e","#0a65a0","#2c7abf","#6788c0","#a4b6d8","#dfe5f1"]}}}}
]}
